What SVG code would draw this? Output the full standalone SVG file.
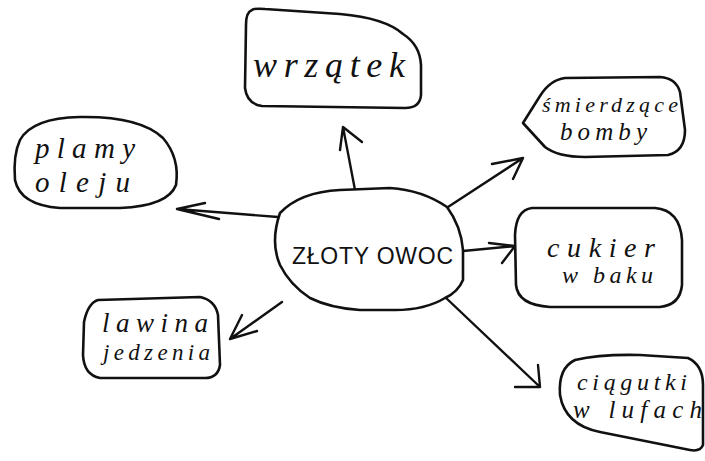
<svg xmlns="http://www.w3.org/2000/svg" width="705" height="461" viewBox="0 0 705 461">
<style>
.shape{fill:#fff;stroke:#111;stroke-width:2.6;stroke-linejoin:round;stroke-linecap:round}
.line{fill:none;stroke:#111;stroke-width:2.4;stroke-linecap:round;stroke-linejoin:round}
.hw{font-family:"Liberation Serif","DejaVu Serif",serif;font-style:italic;fill:#111}
.cap{font-family:"Liberation Sans","DejaVu Sans",sans-serif;fill:#111}
</style>
<rect width="705" height="461" fill="#fff"/>
<g id="connectors">
<path class="line" d="M355,190 L343,127 M340,150 L343,127 L362,142"/>
<path class="line" d="M278,217 L177,209 M205,203 L177,209 L219,219"/>
<path class="line" d="M448,207 L523,158 M492,164 L523,158 L513,179"/>
<path class="line" d="M463,251 L515,246 M489,243 L515,246 L502,263"/>
<path class="line" d="M282,302 L230,339 M242,315 L230,339 L257,331"/>
<path class="line" d="M445,297 L540,387 M538,365 L540,387 L515,387"/>
</g>
<g id="node-wrzatek">
<path class="shape" d="M252,10 Q246,12 246,25 L245,88 Q247,104 262,106 L405,108 Q420,108 421,95 L421,65 Q420,45 403,34 Q385,18 340,14 L265,9 Q254,8 252,10 Z"/>
<text class="hw" x="253" y="77" font-size="36" textLength="152" lengthAdjust="spacing">wrzątek</text>
</g>
<g id="node-smierdzace">
<path class="shape" d="M523,123 L540,96 Q550,80 565,78 L660,77 Q676,78 680,92 L685,130 Q685,151 668,155 L585,157 Q558,157 545,147 Z"/>
<text class="hw" x="542" y="112" font-size="22" textLength="136" lengthAdjust="spacing">śmierdzące</text>
<text class="hw" x="560" y="140" font-size="25" textLength="87" lengthAdjust="spacing">bomby</text>
</g>
<g id="node-plamy">
<path class="shape" d="M20,140 Q32,118 80,117 Q140,116 163,138 Q180,158 176,185 Q168,206 120,208 L60,208 Q20,205 15,180 Q13,155 20,140 Z"/>
<text class="hw" x="35" y="158" font-size="29" textLength="100" lengthAdjust="spacing">plamy</text>
<text class="hw" x="35" y="192" font-size="29" textLength="95" lengthAdjust="spacing">oleju</text>
</g>
<g id="node-zloty">
<path class="shape" d="M280,213 Q300,192 340,190 L390,188 Q422,190 447,207 Q461,226 463,250 L463,280 Q458,292 445,298 Q425,310 395,310 L360,310 Q330,308 310,298 Q290,285 280,265 Q270,242 280,213 Z"/>
<text class="cap" x="292" y="264" font-size="23" textLength="161" lengthAdjust="spacing">ZŁOTY OWOC</text>
</g>
<g id="node-cukier">
<path class="shape" d="M532,208 L655,208 Q680,210 682,240 L682,285 Q680,305 660,307 L550,307 Q518,305 516,285 L515,235 Q516,210 532,208 Z"/>
<text class="hw" x="547" y="257" font-size="28" textLength="108" lengthAdjust="spacing">cukier</text>
<text class="hw" x="562" y="283" font-size="24" textLength="91" lengthAdjust="spacing">w baku</text>
</g>
<g id="node-lawina">
<path class="shape" d="M98,300 L200,297 Q215,300 218,315 L220,365 Q218,378 205,378 L100,378 Q84,375 83,355 L84,322 Q88,303 98,300 Z"/>
<text class="hw" x="102" y="332" font-size="27" textLength="106" lengthAdjust="spacing">lawina</text>
<text class="hw" x="103" y="360" font-size="23" textLength="107" lengthAdjust="spacing">jedzenia</text>
</g>
<g id="node-ciagutki">
<path class="shape" d="M560,395 Q558,368 575,360 Q600,354 640,355 L688,358 Q703,365 703,385 L703,445 Q700,452 690,450 L600,432 Q565,425 560,395 Z"/>
<text class="hw" x="577" y="390" font-size="24" textLength="110" lengthAdjust="spacing">ciągutki</text>
<text class="hw" x="573" y="418" font-size="25" textLength="129" lengthAdjust="spacing">w lufach</text>
</g>
</svg>
